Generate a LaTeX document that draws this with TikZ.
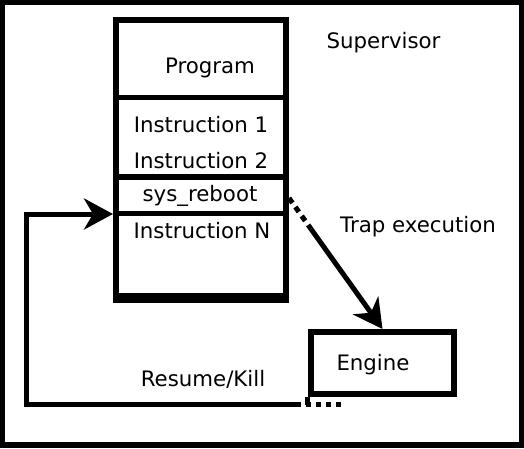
\documentclass[tikz,border=0pt]{standalone}
\usepackage{fontspec}
\setmainfont{DejaVu Sans}
\usetikzlibrary{arrows.meta}
\begin{document}
\begin{tikzpicture}[x=1pt,y=-1pt,
  lbl/.style={inner sep=0pt, anchor=base, font=\fontsize{21.3}{24}\selectfont},
  boxstyle/.style={draw, line width=6pt, inner sep=0pt},
  divider/.style={line width=5pt},
  conn/.style={line width=5pt},
  bigtip/.style={-{Stealth[length=29pt,width=31pt,inset=9pt]}}
]
% frame
\fill[black] (0,0) rectangle (524,448);
\fill[white] (5,5) rectangle (519,442);
\useasboundingbox (0,0) rectangle (524,448);

% program box
\node[boxstyle, minimum width=170pt, minimum height=280pt] (prog) at (201,160) {};
\draw[line width=10pt] (113,298) -- (289,298);
\draw[divider] (prog.west |- 0,97.5) -- (prog.east |- 0,97.5);
\draw[line width=6pt] (prog.west |- 0,177) -- (prog.east |- 0,177);
\draw[divider] (prog.west |- 0,213.5) -- (prog.east |- 0,213.5);

% engine box
\node[boxstyle, minimum width=143pt, minimum height=62pt] (engine) at (382.5,363) {};

% labels
\node[lbl] (tprog) at (210,73) {Program};
\node[lbl] (ti1) at (201,132) {Instruction 1};
\node[lbl] (ti2) at (201,168) {Instruction 2};
\node[lbl] (tsys) at (200,201) {sys\_reboot};
\node[lbl] (tin) at (202,238) {Instruction N};
\node[lbl] (tsup) at (383.5,48) {Supervisor};
\node[lbl] (ttrap) at (418,232) {Trap execution};
\node[lbl] (teng) at (373,370) {Engine};
\node[lbl] (tres) at (203,386) {Resume/Kill};

% trap arrow
\coordinate (trapstart) at (289,198);
\coordinate (trapmid) at (311,229);
\draw[conn, dash pattern=on 6pt off 5pt] (trapstart) -- (trapmid);
\draw[conn, bigtip] (trapmid) -- (engine.north);

% resume arrow
\coordinate (rstart) at (341,404.5);
\coordinate (rmid) at (299,404.5);
\coordinate (rcorner1) at (26.5,404.5);
\coordinate (rcorner2) at (26.5,214);
\draw[line width=5pt] ([xshift=-0.5pt]engine.south west) -- ([xshift=-0.5pt]engine.south west |- rstart);
\draw[conn, dash pattern=on 5pt off 5pt] (rstart) -- (rmid);
\draw[conn, bigtip] (rmid) -- (rcorner1) -- (rcorner2) -- (prog.west |- rcorner2);
\end{tikzpicture}
\end{document}
